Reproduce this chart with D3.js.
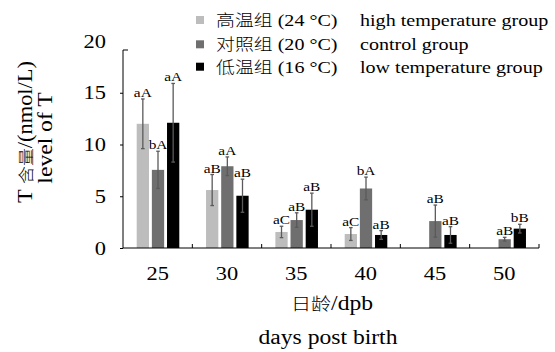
<!DOCTYPE html>
<html>
<head>
<meta charset="utf-8">
<script src="https://cdn.jsdelivr.net/npm/d3@7"></script>
<style>
html,body{margin:0;padding:0;background:#fff;}
svg{display:block;}
text{font-family:"Liberation Serif","Times New Roman","Noto Sans CJK SC",serif;fill:#000;}
.cjk{font-family:"Noto Sans CJK SC",sans-serif;font-weight:300;}
</style>
</head>
<body>
<svg id="chart" width="555" height="352"></svg>
<script>
const days = ["25","30","35","40","45","50"];
const seriesNames = ["high","control","low"];
const legendCn = ["高温组","对照组","低温组"];
const legendTemp = [" (24 °C)"," (20 °C)"," (16 °C)"];
const legendEn = ["high temperature group","control group","low temperature group"];
const highVals = [12.0, 5.6, 1.55, 1.35, null, null];
const highErr = [2.4, 1.5, 0.55, 0.62, null, null];
const controlVals = [7.55, 7.9, 2.7, 5.75, 2.6, 0.85];
const controlErr = [1.8, 0.9, 0.7, 1.1, 1.55, 0.18];
const lowVals = [12.1, 5.05, 3.7, 1.26, 1.26, 1.87];
const lowErr = [3.8, 1.6, 1.6, 0.42, 0.8, 0.42];
const highLab = ["aA","aB","aC","aC","",""];
const controlLab = ["bA","aA","aB","bA","aB","aB"];
const lowLab = ["aA","aB","aB","aB","aB","bB"];
const yTicks = [0,5,10,15,20];
const colors = ["#bdbdbd","#6f6f6f","#000000"];
const errColor = "#5a5a5a";

const vals = [highVals, controlVals, lowVals];
const errs = [highErr, controlErr, lowErr];
const labs = [highLab, controlLab, lowLab];

function widen(sel, k) {
  k = k || 1.18;
  sel.each(function () {
    const L = this.getComputedTextLength();
    if (L > 0) {
      this.setAttribute("textLength", (L * k).toFixed(2));
      this.setAttribute("lengthAdjust", "spacingAndGlyphs");
    }
  });
  return sel;
}

const svg = d3.select("#chart");
const mLeft = 123, mRight = 539, mBottom = 248, mTop = 41;

const x0 = d3.scaleBand().domain(days).range([mLeft, mRight]).padding(0);
const x1 = d3.scaleBand().domain(seriesNames).range([13.7, 56.3]).paddingInner(0.19).paddingOuter(0);
const y = d3.scaleLinear().domain([0, 20]).range([mBottom, mTop]);

const rows = [];
days.forEach((d, i) => {
  seriesNames.forEach((s, j) => {
    if (vals[j][i] != null) rows.push({day: d, s, j, v: vals[j][i], e: errs[j][i], lab: labs[j][i]});
  });
});

// bars
svg.append("g").selectAll("rect").data(rows).join("rect")
  .attr("x", d => x0(d.day) + x1(d.s))
  .attr("y", d => y(d.v))
  .attr("width", x1.bandwidth())
  .attr("height", d => y(0) - y(d.v))
  .attr("fill", d => colors[d.j]);

// error bars
const eg = svg.append("g").attr("stroke", errColor).attr("stroke-width", 1.3);
rows.forEach(d => {
  const cx = x0(d.day) + x1(d.s) + x1.bandwidth() / 2;
  const yt = y(d.v + d.e), yb = y(Math.max(0, d.v - d.e));
  eg.append("line").attr("x1", cx).attr("x2", cx).attr("y1", yt).attr("y2", yb);
  eg.append("line").attr("x1", cx - 1.8).attr("x2", cx + 1.8).attr("y1", yt).attr("y2", yt);
  eg.append("line").attr("x1", cx - 1.8).attr("x2", cx + 1.8).attr("y1", yb).attr("y2", yb);
});

// significance labels
widen(svg.append("g").selectAll("text").data(rows).join("text")
  .attr("x", d => x0(d.day) + x1(d.s) + x1.bandwidth() / 2)
  .attr("y", d => y(d.v + d.e) - 2)
  .attr("text-anchor", "middle")
  .attr("font-size", 13)
  .text(d => d.lab));

// y axis
const yAxis = svg.append("g").attr("transform", `translate(${mLeft},0)`)
  .call(d3.axisLeft(y).tickValues(yTicks.slice(0, 4)).tickSize(3).tickFormat(""));
yAxis.select(".domain").remove();
yAxis.selectAll("line").attr("stroke", "#000");
svg.append("line").attr("x1", mLeft).attr("x2", mLeft).attr("y1", y(0)).attr("y2", y(19.13)).attr("stroke", "#000");
svg.append("line").attr("x1", mLeft).attr("x2", mLeft + 5).attr("y1", y(19.13)).attr("y2", y(19.13)).attr("stroke", "#000");
widen(svg.append("g").selectAll("text").data(yTicks).join("text")
  .attr("x", 106).attr("y", d => y(d)).attr("dy", "0.35em")
  .attr("text-anchor", "end").attr("font-size", 19)
  .text(d => d));

// x axis
const xAxis = svg.append("g").attr("transform", `translate(0,${mBottom})`)
  .call(d3.axisBottom(x0).tickSize(0).tickFormat(""));
xAxis.select(".domain").attr("d", `M${mLeft},0H${mRight}`).attr("stroke", "#000");
const bounds = days.slice(1).map(d => x0(d)).concat([mRight]);
svg.append("g").selectAll("line").data(bounds).join("line")
  .attr("x1", d => d).attr("x2", d => d).attr("y1", mBottom).attr("y2", mBottom - 4).attr("stroke", "#000");
widen(svg.append("g").selectAll("text").data(days).join("text")
  .attr("x", d => x0(d) + x0.bandwidth() / 2).attr("y", 280)
  .attr("text-anchor", "middle").attr("font-size", 19)
  .text(d => d));

// axis titles
const xt1 = svg.append("text").attr("x", 332).attr("y", 310).attr("text-anchor", "middle").attr("font-size", 20);
xt1.append("tspan").attr("class", "cjk").attr("font-size", 17).text("日龄");
xt1.append("tspan").text("/dpb");
widen(xt1);
widen(svg.append("text").attr("x", 328).attr("y", 344).attr("text-anchor", "middle").attr("font-size", 20).text("days post birth"));

const yt1 = svg.append("text").attr("transform", "translate(32,132) rotate(-90)").attr("text-anchor", "middle").attr("font-size", 20);
yt1.append("tspan").text("T ");
yt1.append("tspan").attr("class", "cjk").attr("font-size", 16).text("含量");
yt1.append("tspan").text("/(nmol/L)");
widen(yt1, 1.12);
widen(svg.append("text").attr("transform", "translate(52,138) rotate(-90)").attr("text-anchor", "middle").attr("font-size", 20).text("level of T"));

// legend
const lg = svg.append("g");
const rowY = [20, 44.3, 66.7];
legendCn.forEach((t, i) => {
  lg.append("rect").attr("x", 196).attr("y", rowY[i] - 4).attr("width", 8).attr("height", 8).attr("fill", colors[i]);
  const tx = lg.append("text").attr("x", 216).attr("y", rowY[i]).attr("dy", "0.35em").attr("font-size", 17);
  tx.append("tspan").attr("class", "cjk").attr("font-size", 16).text(t);
  tx.append("tspan").text(legendTemp[i]);
  widen(tx);
  widen(lg.append("text").attr("x", 360).attr("y", rowY[i]).attr("dy", "0.35em").attr("font-size", 17).text(legendEn[i]));
});
</script>
</body>
</html>
